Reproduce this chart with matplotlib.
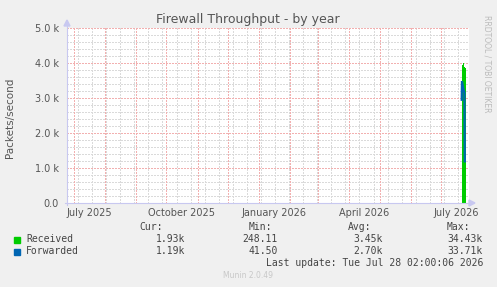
"""
Munin style yearly firewall throughput graph
"""
import numpy as np
import matplotlib
matplotlib.use("Agg")
import matplotlib.pyplot as plt
from datetime import datetime, timedelta

# view window (one pixel is about one day)
start = datetime(2025, 6, 24)
end = datetime(2026, 7, 29)

# received: short spike at the right edge
recv_dates = ["2026-07-22 12:00", "2026-07-23", "2026-07-24", "2026-07-25", "2026-07-26"]
recv_vals = [3950, 4000, 3900, 3850, 3800]

# forwarded
fwd_dates = ["2026-07-21 18:00", "2026-07-22", "2026-07-22 18:00", "2026-07-23 12:00",
             "2026-07-24 12:00", "2026-07-24 20:00"]
fwd_vals = [2950, 3480, 3350, 3250, 3150, 1190]

label_months = ["2025-07-16", "2025-10-16", "2026-01-16", "2026-04-16", "2026-07-16"]
label_text = ["July 2025", "October 2025", "January 2026", "April 2026", "July 2026"]

y_ticks = [0, 1000, 2000, 3000, 4000, 5000]
y_labels = ["0.0", "1.0 k", "2.0 k", "3.0 k", "4.0 k", "5.0 k"]

series = ["Received", "Forwarded"]
colors = ["#00CC00", "#0066B3"]
cur = ["1.93k", "1.19k"]
vmin = ["248.11", "41.50"]
avg = ["3.45k", "2.70k"]
vmax = ["34.43k", "33.71k"]

W, H = 497, 287
bg = "#F0F0F0"
txt = "#555555"

fig = plt.figure(figsize=(W / 100, H / 100), dpi=100, facecolor=bg)
ax = fig.add_axes([67 / W, 1 - 203 / H, (469 - 67) / W, (203 - 28) / H])
ax.set_facecolor("white")

to_dt = lambda s: datetime.fromisoformat(s)
rx = [to_dt(d) for d in recv_dates]
fx = [to_dt(d) for d in fwd_dates]

ax.set_xlim(start, end)
ax.set_ylim(0, 5000)

# grid: red dotted monthly / 1k, grey dotted biweekly / 200
dot = (0, (1, 1))
m = datetime(2025, 7, 1)
months = []
while m < end:
    months.append(m)
    m = datetime(m.year + (m.month // 12), m.month % 12 + 1, 1)
biweek = []
d = datetime(2025, 7, 5)
while d < end:
    biweek.append(d)
    d += timedelta(days=14)

grey = "#DADADA"
red = "#F2B0B0"
for b in biweek:
    ax.axvline(b, color=grey, lw=1, ls=dot, zorder=0, antialiased=False)
for yv in np.arange(200, 5000, 200):
    ax.axhline(yv, color=grey, lw=1, ls=dot, zorder=0, antialiased=False)
for mm in months:
    ax.axvline(mm, color=red, lw=1, ls=dot, zorder=1, antialiased=False)
for yv in y_ticks[1:]:
    ax.axhline(yv, color=red, lw=1, ls=dot, zorder=1, antialiased=False)

# data
ax.fill_between(rx, 0, recv_vals, color=colors[0], lw=0, step="post", zorder=3)
ax.plot(fx, fwd_vals, color=colors[1], lw=1.6, zorder=4, solid_joinstyle="miter")

for s in ax.spines.values():
    s.set_visible(False)
ax.set_xticks([])
ax.set_yticks(y_ticks)
ax.set_yticklabels(y_labels)
ax.tick_params(axis="y", length=0, pad=6, labelsize=7, labelcolor=txt)

for dstr, t in zip(label_months, label_text):
    ax.text(to_dt(dstr), -0.055, t, transform=ax.get_xaxis_transform(),
            ha="center", va="center", fontsize=7, color=txt)

# axis arrows
ac = "#C8C8F0"
fig.add_artist(plt.Line2D([67 / W, 67 / W], [1 - 205 / H, 1 - 24 / H], color=ac, lw=0.8))
fig.add_artist(plt.Line2D([65 / W, 470 / W], [1 - 203 / H, 1 - 203 / H], color=ac, lw=0.8))
fig.patches.append(plt.Polygon([[64 / W, 1 - 26 / H], [70 / W, 1 - 26 / H], [67 / W, 1 - 20 / H]],
                               closed=True, color=ac, transform=fig.transFigure))
fig.patches.append(plt.Polygon([[469 / W, 1 - 200 / H], [469 / W, 1 - 206 / H], [475 / W, 1 - 203 / H]],
                               closed=True, color=ac, transform=fig.transFigure))

# titles
fig.text(248 / W, 1 - 19 / H, "Firewall Throughput - by year", ha="center", va="center",
         fontsize=9, color=txt)
fig.text(10 / W, 1 - 118 / H, "Packets/second", rotation=90, ha="center", va="center",
         fontsize=7.5, color=txt)
fig.text(487 / W, 1 - 15 / H, "RRDTOOL / TOBI OETIKER", rotation=270, ha="center", va="top",
         fontsize=5.5, color="#BBBBBB")

# legend table
mono = "DejaVu Sans Mono"
fs = 7
lc = "#444444"
cols = [185, 278, 383, 483]
heads = ["Cur:", "Min:", "Avg:", "Max:"]
head_x = [163, 272, 371, 470]
for hx, h in zip(head_x, heads):
    fig.text(hx / W, 1 - 227 / H, h, ha="right", va="center", family=mono, fontsize=fs, color=lc)

rows_y = [239.5, 251.5]
for i, name in enumerate(series):
    yy = rows_y[i]
    fig.patches.append(plt.Rectangle((14 / W, 1 - (yy + 3) / H), 6 / W, 6 / H,
                                     color=colors[i], transform=fig.transFigure))
    fig.text(26 / W, 1 - yy / H, name, ha="left", va="center", family=mono, fontsize=fs, color=lc)
    for cx, v in zip(cols, [cur[i], vmin[i], avg[i], vmax[i]]):
        fig.text(cx / W, 1 - yy / H, v, ha="right", va="center", family=mono, fontsize=fs, color=lc)

fig.text(483 / W, 1 - 263.5 / H, "Last update: Tue Jul 28 02:00:06 2026", ha="right", va="center",
         family=mono, fontsize=fs, color=lc)
fig.text(248 / W, 1 - 276 / H, "Munin 2.0.49", ha="center", va="center", fontsize=5.5,
         color="#C8C8C8")

fig.savefig("out.png", dpi=100, facecolor=bg)
